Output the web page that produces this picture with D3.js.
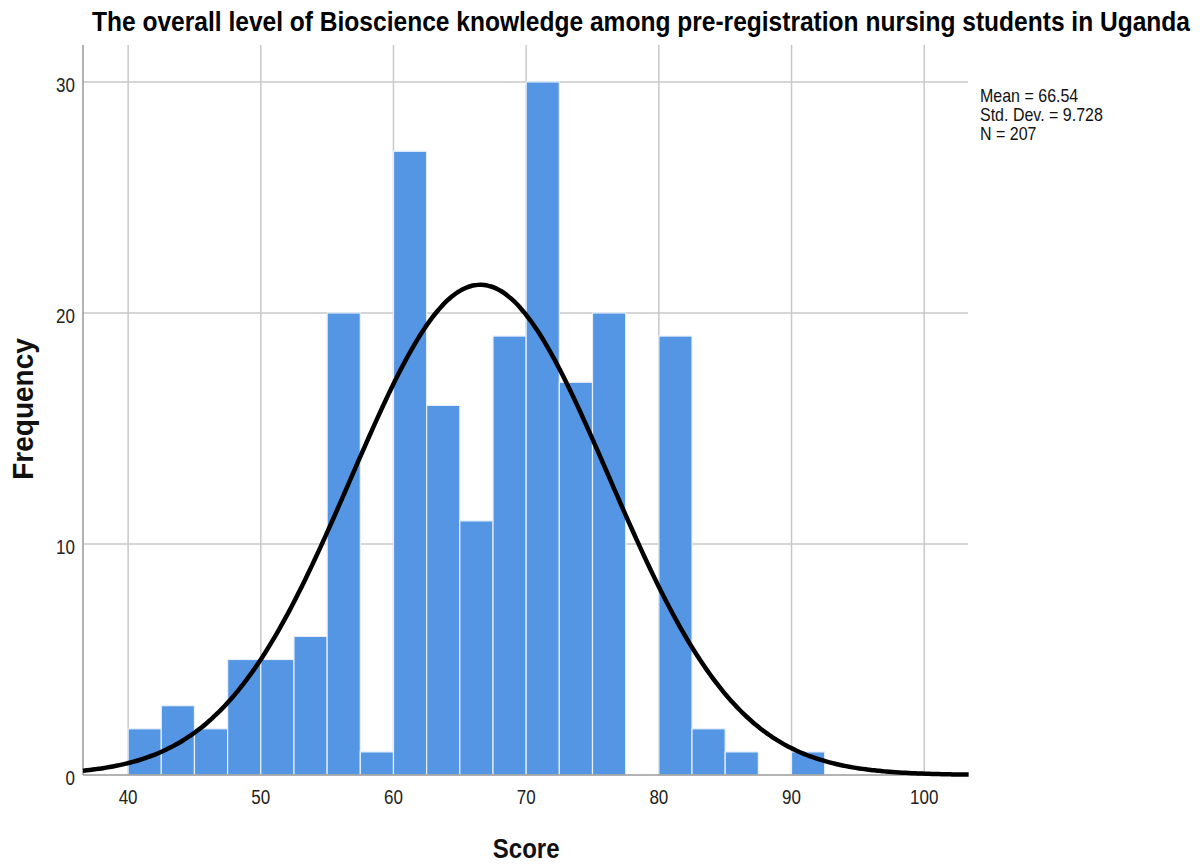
<!DOCTYPE html>
<html>
<head>
<meta charset="utf-8">
<script src="https://cdn.jsdelivr.net/npm/d3@7"></script>
<style>
  body { margin: 0; background: #fff; }
  text { font-family: "Liberation Sans", Arial, sans-serif; }
</style>
</head>
<body>
<div id="chart"></div>
<script>
// histogram bins (lower edges) and frequencies
var binStarts = [40, 42.5, 45, 47.5, 50, 52.5, 55, 57.5, 60, 62.5, 65, 67.5, 70, 72.5, 75, 77.5, 80, 82.5, 85, 87.5, 90];
var counts = [2, 3, 2, 5, 5, 6, 20, 1, 27, 16, 11, 19, 30, 17, 20, 0, 19, 2, 1, 0, 1];
var binWidth = 2.5;
var xTicks = [40, 50, 60, 70, 80, 90, 100];
var yTicks = [0, 10, 20, 30];
var stats = { mean: 66.54, sd: 9.728, n: 207 };
var statLines = ["Mean = 66.54", "Std. Dev. = 9.728", "N = 207"];

var width = 1203, height = 864;
var stretch = 1.15; // text in the picture is a bit taller than wide

var svg = d3.select("#chart").append("svg")
    .attr("width", width)
    .attr("height", height);

// plot area
var plotLeft = 83, plotRight = 968, plotTop = 45, plotBottom = 775;

var x = d3.scaleLinear().domain([36.6, 103.3]).range([plotLeft, plotRight]);
var y = d3.scaleLinear().domain([0, 31.6]).range([plotBottom, plotTop]);

function place(px, py) {
    return "translate(" + px + "," + py + ") scale(1," + stretch + ")";
}

// grid lines
svg.append("g").selectAll("line")
    .data(xTicks)
    .enter().append("line")
    .attr("x1", function(d) { return x(d); })
    .attr("x2", function(d) { return x(d); })
    .attr("y1", plotTop)
    .attr("y2", plotBottom)
    .attr("stroke", "#c8c8c8")
    .attr("stroke-width", 1.5);

svg.append("g").selectAll("line")
    .data(yTicks.filter(function(d) { return d > 0; }))
    .enter().append("line")
    .attr("x1", plotLeft)
    .attr("x2", plotRight)
    .attr("y1", function(d) { return y(d); })
    .attr("y2", function(d) { return y(d); })
    .attr("stroke", "#c8c8c8")
    .attr("stroke-width", 1.5);

// bars
var bins = binStarts.map(function(s, i) { return { x0: s, x1: s + binWidth, value: counts[i] }; });
svg.append("g").selectAll("rect")
    .data(bins.filter(function(d) { return d.value > 0; }))
    .enter().append("rect")
    .attr("x", function(d) { return x(d.x0); })
    .attr("width", function(d) { return x(d.x1) - x(d.x0); })
    .attr("y", function(d) { return y(d.value); })
    .attr("height", function(d) { return y(0) - y(d.value); })
    .attr("fill", "#5596e4")
    .attr("stroke", "#e8f0fb")
    .attr("stroke-width", 1.2);

// axis lines
svg.append("line")
    .attr("x1", plotLeft).attr("x2", plotLeft)
    .attr("y1", plotTop).attr("y2", plotBottom)
    .attr("stroke", "#999").attr("stroke-width", 1.5);
svg.append("line")
    .attr("x1", plotLeft).attr("x2", plotRight)
    .attr("y1", plotBottom).attr("y2", plotBottom)
    .attr("stroke", "#999").attr("stroke-width", 1.5);

// fitted normal curve from mean, sd, n
var step = 0.25;
var curveX = d3.range(36.6, 103.3 + step / 2, step);
var scale = stats.n * binWidth / (stats.sd * Math.sqrt(2 * Math.PI));
var curve = curveX.map(function(v) {
    var z = (v - stats.mean) / stats.sd;
    return [v, scale * Math.exp(-0.5 * z * z)];
});
svg.append("path")
    .datum(curve)
    .attr("fill", "none")
    .attr("stroke", "#000")
    .attr("stroke-width", 4.5)
    .attr("d", d3.line()
        .x(function(d) { return x(d[0]); })
        .y(function(d) { return y(d[1]); })
        .curve(d3.curveBasis));

// tick labels
svg.append("g").selectAll("text")
    .data(xTicks)
    .enter().append("text")
    .attr("transform", function(d) { return place(x(d), 804); })
    .attr("text-anchor", "middle")
    .attr("font-size", 17)
    .attr("fill", "#222")
    .text(function(d) { return d; });

svg.append("g").selectAll("text")
    .data(yTicks)
    .enter().append("text")
    .attr("transform", function(d) { return place(75, y(d) + 10); })
    .attr("text-anchor", "end")
    .attr("font-size", 17)
    .attr("fill", "#222")
    .text(function(d) { return d; });

// axis titles
svg.append("text")
    .attr("transform", place(x(70), 858))
    .attr("text-anchor", "middle")
    .attr("font-size", 24)
    .attr("font-weight", "bold")
    .attr("fill", "#111")
    .text("Score");

svg.append("text")
    .attr("transform", "translate(33,409) rotate(-90) scale(1,1.05)")
    .attr("text-anchor", "middle")
    .attr("font-size", 28)
    .attr("font-weight", "bold")
    .attr("fill", "#111")
    .text("Frequency");

// title
svg.append("text")
    .attr("transform", place(641, 31))
    .attr("text-anchor", "middle")
    .attr("font-size", 24)
    .attr("font-weight", "bold")
    .attr("textLength", 1098)
    .attr("lengthAdjust", "spacingAndGlyphs")
    .text("The overall level of Bioscience knowledge among pre-registration nursing students in Uganda");

// stats box
svg.append("g").selectAll("text")
    .data(statLines)
    .enter().append("text")
    .attr("transform", function(d, i) { return place(980, 101.5 + i * 19); })
    .attr("font-size", 16)
    .attr("fill", "#111")
    .text(function(d) { return d; });
</script>
</body>
</html>
